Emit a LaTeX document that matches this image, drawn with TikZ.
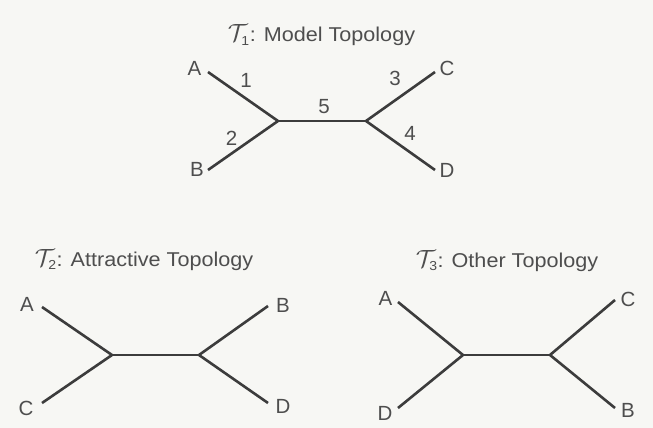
\documentclass[tikz,border=0pt]{standalone}
\usepackage{fontspec}
\setmainfont{Liberation Sans}
\newfontfamily\titlefont[FakeStretch=1.08]{Liberation Sans}
\definecolor{bg}{HTML}{F7F7F4}
\definecolor{ink}{HTML}{4E4E4E}
\definecolor{edgecol}{HTML}{3C3C3C}
\newcommand{\calT}[1]{{\fontsize{23}{23}\selectfont$\mathcal{T}_{\mbox{\titlefont\fontsize{13}{13}\selectfont #1}}$}}
\begin{document}
\begin{tikzpicture}[x=1pt,y=-1pt,
  lbl/.style={text=ink,font=\fontsize{20.5}{20.5}\selectfont,inner sep=0pt},
  ttl/.style={text=ink,font=\titlefont\fontsize{20}{20}\selectfont,inner sep=0pt,anchor=base},
  branch/.style={draw=edgecol,line width=2.6pt}]
\fill[bg] (0,0) rectangle (653,428);
\useasboundingbox (0,0) rectangle (653,428);

% ---------- T1 ----------
\node[ttl] (title1) at (321.5,42) {\calT{1}: Model Topology};
\coordinate (t1a) at (208,72);
\coordinate (t1b) at (208,170);
\coordinate (t1c) at (435,72);
\coordinate (t1d) at (435,170);
\coordinate (t1u) at (278,121);
\coordinate (t1v) at (366,121);
\node[lbl] (t1A) at (194.5,68.5) {A};
\node[lbl] (t1B) at (197,169) {B};
\node[lbl] (t1C) at (447,68.5) {C};
\node[lbl] (t1D) at (447,170) {D};
\draw[branch] (t1a) -- (t1u) -- (t1b);
\draw[branch] (t1u) -- (t1v);
\draw[branch] (t1c) -- (t1v) -- (t1d);
\node[lbl] (e1) at (246,80) {1};
\node[lbl] (e2) at (231.5,138) {2};
\node[lbl] (e5) at (324,106.5) {5};
\node[lbl] (e3) at (395,78.5) {3};
\node[lbl] (e4) at (410,133.5) {4};

% ---------- T2 ----------
\node[ttl] (title2) at (144,266) {\calT{2}: Attractive Topology};
\coordinate (t2a) at (42,307);
\coordinate (t2c) at (42,403);
\coordinate (t2b) at (268,306);
\coordinate (t2d) at (268,403);
\coordinate (t2u) at (112,355);
\coordinate (t2v) at (199,355);
\node[lbl] (t2A) at (27,304.5) {A};
\node[lbl] (t2C) at (26,408.5) {C};
\node[lbl] (t2B) at (283,305) {B};
\node[lbl] (t2D) at (283,406) {D};
\draw[branch] (t2a) -- (t2u) -- (t2c);
\draw[branch] (t2u) -- (t2v);
\draw[branch] (t2b) -- (t2v) -- (t2d);

% ---------- T3 ----------
\node[ttl] (title3) at (507,267) {\calT{3}: Other Topology};
\coordinate (t3a) at (398,302);
\coordinate (t3d) at (398,408);
\coordinate (t3c) at (615,300);
\coordinate (t3b) at (615,408);
\coordinate (t3u) at (463,355);
\coordinate (t3v) at (550,355);
\node[lbl] (t3A) at (385.5,298.5) {A};
\node[lbl] (t3D) at (385,413) {D};
\node[lbl] (t3C) at (628,299) {C};
\node[lbl] (t3B) at (628,410) {B};
\draw[branch] (t3a) -- (t3u) -- (t3d);
\draw[branch] (t3u) -- (t3v);
\draw[branch] (t3c) -- (t3v) -- (t3b);
\end{tikzpicture}
\end{document}
